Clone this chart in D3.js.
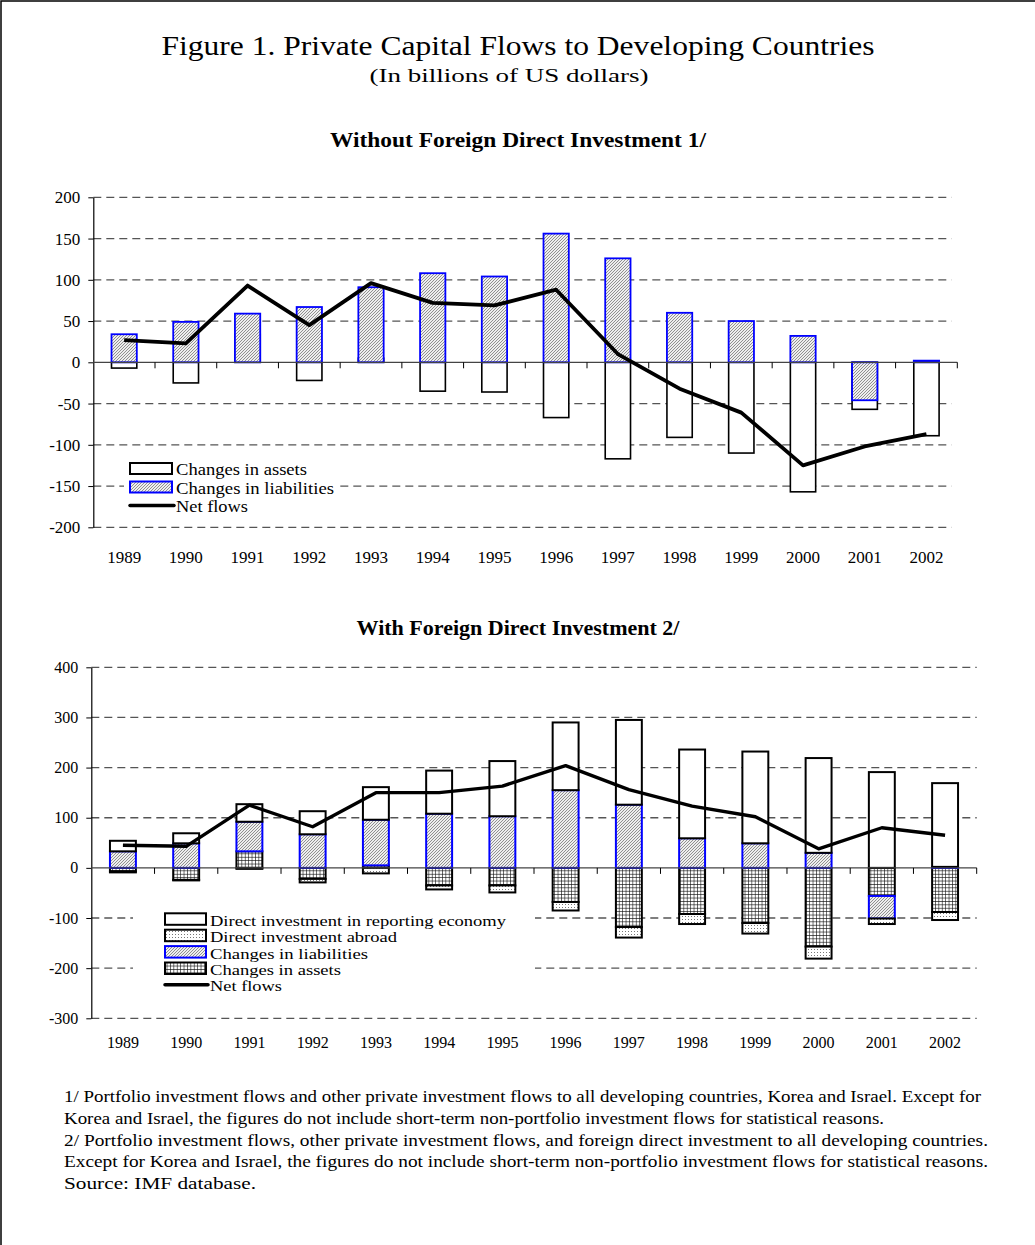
<!DOCTYPE html>
<html>
<head>
<meta charset="utf-8">
<script src="https://cdn.jsdelivr.net/npm/d3@7"></script>
<style>
    body { margin: 0; background: #fff; }
    svg text { font-family: "Liberation Serif", "Times New Roman", Times, serif; fill: #000; }
</style>
</head>
<body>
<div class="chart"></div>
<script>

// categories
var years = ["1989", "1990", "1991", "1992", "1993", "1994", "1995",
             "1996", "1997", "1998", "1999", "2000", "2001", "2002"];

// top panel: without FDI
var topLiabilities = [34, 49, 59, 67, 91, 108, 104, 156, 126, 60, 50, 32, -46, 2];
var topAssets      = [-7, -25, 34, -22, 5, -35, -36, -67, -117, -91, -110, -157, -57, -89];
var topNet         = [27, 23, 93, 45, 96, 72, 69, 88, 10, -32, -61, -125, -102, -87];
var topTicks       = [-200, -150, -100, -50, 0, 50, 100, 150, 200];

// bottom panel: with FDI
var fdiReporting   = [21, 20, 35, 46, 65, 86, 110, 135, 169, 177, 183, 189, 191, 167];
var fdiAbroad      = [-2, -1, -2, -7, -11, -8, -14, -17, -21, -20, -21, -24, -11, -16];
var botLiabilities = [33, 49, 59, 67, 91, 108, 103, 155, 126, 59, 49, 30, -45, 2];
var botAssets      = [-7, -24, 33, -22, 5, -35, -35, -68, -118, -92, -110, -157, -56, -88];
var botNet         = [45, 43, 125, 82, 150, 150, 163, 204, 156, 123, 102, 38, 80, 65];
var botTicks       = [-300, -200, -100, 0, 100, 200, 300, 400];

var footnotes = [
    "1/ Portfolio investment flows and other private investment flows to all developing countries, Korea and Israel. Except for",
    "Korea and Israel, the figures do not include short-term non-portfolio investment flows for statistical reasons.",
    "2/ Portfolio investment flows, other private investment flows, and foreign direct investment to all developing countries.",
    "Except for Korea and Israel, the figures do not include short-term non-portfolio investment flows for statistical reasons.",
    "Source: IMF database."
];
var footnoteWidths = [917, 820, 924, 924, 192];


var svg = d3.select(".chart").append("svg")
    .attr("width", 1035)
    .attr("height", 1245);

// page frame (top and left edges)
svg.append("path")
    .attr("d", "M1,1245V1H1035")
    .attr("fill", "none")
    .attr("stroke", "#000")
    .attr("stroke-width", 1.5);

// fill patterns
var defs = svg.append("defs");

var hatch = defs.append("pattern").attr("id", "hatch")
    .attr("width", 3).attr("height", 3).attr("patternUnits", "userSpaceOnUse");
hatch.append("rect").attr("width", 3).attr("height", 3).attr("fill", "#eee");
hatch.append("path").attr("d", "M-1,1L1,-1M0,3L3,0M2,4L4,2")
    .attr("stroke", "#777").attr("stroke-width", 0.8);

var grid = defs.append("pattern").attr("id", "grid")
    .attr("width", 3.4).attr("height", 3.4).attr("patternUnits", "userSpaceOnUse");
grid.append("rect").attr("width", 3.4).attr("height", 3.4).attr("fill", "#fff");
grid.append("path").attr("d", "M0,0H3.4M0,0V3.4")
    .attr("stroke", "#111").attr("stroke-width", 1.2);

var dots = defs.append("pattern").attr("id", "dots")
    .attr("width", 3).attr("height", 3).attr("patternUnits", "userSpaceOnUse");
dots.append("rect").attr("width", 3).attr("height", 3).attr("fill", "#fff");
dots.append("rect").attr("x", 1).attr("y", 1).attr("width", 1).attr("height", 1).attr("fill", "#777");


// titles
svg.append("text")
    .attr("x", 518).attr("y", 55)
    .attr("text-anchor", "middle")
    .attr("font-size", 28)
    .attr("textLength", 713).attr("lengthAdjust", "spacingAndGlyphs")
    .text("Figure 1. Private Capital Flows to Developing Countries");

svg.append("text")
    .attr("x", 509).attr("y", 82)
    .attr("text-anchor", "middle")
    .attr("font-size", 19.5)
    .attr("textLength", 279).attr("lengthAdjust", "spacingAndGlyphs")
    .text("(In billions of US dollars)");

svg.append("text")
    .attr("x", 518).attr("y", 147)
    .attr("text-anchor", "middle")
    .attr("font-size", 20).attr("font-weight", "bold")
    .attr("textLength", 376).attr("lengthAdjust", "spacingAndGlyphs")
    .text("Without Foreign Direct Investment 1/");

svg.append("text")
    .attr("x", 518).attr("y", 635)
    .attr("text-anchor", "middle")
    .attr("font-size", 20).attr("font-weight", "bold")
    .attr("textLength", 323).attr("lengthAdjust", "spacingAndGlyphs")
    .text("With Foreign Direct Investment 2/");


/*
 * Shared axis frame for one panel
 */
function drawFrame(p) {
    var g = svg.append("g");

    // dashed gridlines
    g.selectAll(".grid")
        .data(p.ticks.filter(function(t) { return t !== 0; }))
        .enter().append("line")
        .attr("x1", p.x.range()[0])
        .attr("x2", p.gridEnd)
        .attr("y1", function(d) { return p.y(d); })
        .attr("y2", function(d) { return p.y(d); })
        .attr("stroke", "#555")
        .attr("stroke-width", 1.3)
        .attr("stroke-dasharray", "8,5");

    // y axis (plain hyphen for negatives, as in the original)
    var yAxis = d3.axisLeft(p.y)
        .tickValues(p.ticks)
        .tickFormat(function(d) { return String(d); })
        .tickSize(5)
        .tickSizeOuter(0)
        .tickPadding(8);

    var yg = g.append("g")
        .attr("transform", "translate(" + p.x.range()[0] + ",0)")
        .call(yAxis);
    yg.select(".domain").attr("stroke", "#000").attr("stroke-width", 1.2);
    yg.selectAll(".tick line").attr("stroke", "#000");
    yg.selectAll(".tick text")
        .attr("font-size", p.fontSize)
        .attr("fill", "#000");

    // category labels
    g.selectAll(".cat")
        .data(years)
        .enter().append("text")
        .attr("x", function(d) { return p.x(d) + p.x.bandwidth() / 2; })
        .attr("y", p.labelY)
        .attr("text-anchor", "middle")
        .attr("font-size", p.fontSize)
        .text(function(d) { return d; });

    return g;
}

function drawZeroAxis(p) {
    var gap = (p.x.step() - p.x.bandwidth()) / 2;
    var g = svg.append("g");
    g.append("line")
        .attr("x1", p.x.range()[0]).attr("x2", p.x.range()[1])
        .attr("y1", p.y(0)).attr("y2", p.y(0))
        .attr("stroke", "#444").attr("stroke-width", 1.2);
    g.selectAll(".xtick")
        .data(years.slice(1).concat(["end"]))
        .enter().append("line")
        .attr("x1", function(d) { return d === "end" ? p.x.range()[1] : p.x(d) - gap; })
        .attr("x2", function(d) { return d === "end" ? p.x.range()[1] : p.x(d) - gap; })
        .attr("y1", p.y(0))
        .attr("y2", p.y(0) + 6)
        .attr("stroke", "#000").attr("stroke-width", 1);
}

function drawNet(p, values, width) {
    var line = d3.line()
        .x(function(d, i) { return p.x(years[i]) + p.x.bandwidth() / 2; })
        .y(function(d) { return p.y(d); });
    svg.append("path")
        .datum(values)
        .attr("d", line)
        .attr("fill", "none")
        .attr("stroke", "#000")
        .attr("stroke-width", width)
        .attr("stroke-linejoin", "round");
}

function drawLegend(items, box, sw) {
    var g = svg.append("g");
    g.append("rect")
        .attr("x", box[0]).attr("y", box[1])
        .attr("width", box[2]).attr("height", box[3])
        .attr("fill", "#fff");
    items.forEach(function(it, i) {
        var yy = sw.y0 + i * sw.step;
        if (it.type === "line") {
            g.append("line")
                .attr("x1", sw.x).attr("x2", sw.x + sw.w + 2)
                .attr("y1", yy + sw.h / 2).attr("y2", yy + sw.h / 2)
                .attr("stroke", "#000").attr("stroke-width", 3.5)
                .attr("stroke-linecap", "round");
        } else {
            g.append("rect")
                .attr("x", sw.x).attr("y", yy)
                .attr("width", sw.w).attr("height", sw.h)
                .attr("fill", it.fill)
                .attr("stroke", it.stroke)
                .attr("stroke-width", 2);
        }
        g.append("text")
            .attr("x", sw.x + sw.w + 4)
            .attr("y", yy + sw.h + 1)
            .attr("font-size", sw.font)
            .attr("textLength", it.len).attr("lengthAdjust", "spacingAndGlyphs")
            .text(it.label);
    });
}


/*
 * Top panel: overlapping columns
 */
var topPanel = {
    x: d3.scaleBand().domain(years).range([93.3, 957.3]).paddingInner(0.59).paddingOuter(0.295),
    y: d3.scaleLinear().domain([-200, 200]).range([527.3, 197.3]),
    ticks: topTicks,
    gridEnd: 951.5,
    fontSize: 17,
    labelY: 563
};

drawFrame(topPanel);

drawLegend([
    { label: "Changes in assets", fill: "#fff", stroke: "#000", len: 131 },
    { label: "Changes in liabilities", fill: "url(#hatch)", stroke: "#0000ff", len: 158 },
    { label: "Net flows", type: "line", len: 72 }
], [124, 458, 214, 58], { x: 130, y0: 463, step: 18.5, w: 42, h: 11, font: 17 });

var topRows = years.map(function(d, i) {
    return { year: d, assets: topAssets[i], liab: topLiabilities[i] };
});

svg.append("g").selectAll("rect")
    .data(topRows)
    .enter().append("rect")
    .attr("x", function(d) { return topPanel.x(d.year); })
    .attr("width", topPanel.x.bandwidth())
    .attr("y", function(d) { return topPanel.y(Math.max(0, d.assets)); })
    .attr("height", function(d) { return Math.abs(topPanel.y(d.assets) - topPanel.y(0)); })
    .attr("fill", "#fff")
    .attr("stroke", "#000")
    .attr("stroke-width", 1.6);

svg.append("g").selectAll("rect")
    .data(topRows)
    .enter().append("rect")
    .attr("x", function(d) { return topPanel.x(d.year); })
    .attr("width", topPanel.x.bandwidth())
    .attr("y", function(d) { return topPanel.y(Math.max(0, d.liab)); })
    .attr("height", function(d) { return Math.abs(topPanel.y(d.liab) - topPanel.y(0)); })
    .attr("fill", "url(#hatch)")
    .attr("stroke", "#0000ff")
    .attr("stroke-width", 1.8);

drawZeroAxis(topPanel);
drawNet(topPanel, topNet, 3.8);


/*
 * Bottom panel: stacked columns
 */
var botPanel = {
    x: d3.scaleBand().domain(years).range([91.3, 976.7]).paddingInner(0.59).paddingOuter(0.295),
    y: d3.scaleLinear().domain([-300, 400]).range([1018.3, 667.3]),
    ticks: botTicks,
    gridEnd: 976.7,
    fontSize: 16,
    labelY: 1048
};

drawFrame(botPanel);

drawLegend([
    { label: "Direct investment in reporting economy", fill: "#fff", stroke: "#000", len: 296 },
    { label: "Direct investment abroad", fill: "url(#dots)", stroke: "#000", len: 187 },
    { label: "Changes in liabilities", fill: "url(#hatch)", stroke: "#0000ff", len: 158 },
    { label: "Changes in assets", fill: "url(#grid)", stroke: "#000", len: 131 },
    { label: "Net flows", type: "line", len: 72 }
], [133, 905, 402, 92], { x: 165, y0: 913.3, step: 16.4, w: 41, h: 11.5, font: 15.5 });

var botRows = years.map(function(d, i) {
    return { year: d, assets: botAssets[i], liab: botLiabilities[i],
             abroad: fdiAbroad[i], reporting: fdiReporting[i] };
});

var botKeys = ["assets", "liab", "abroad", "reporting"];
var botStyle = {
    assets:    { fill: "url(#grid)",  stroke: "#000" },
    liab:      { fill: "url(#hatch)", stroke: "#0000ff" },
    abroad:    { fill: "url(#dots)",  stroke: "#000" },
    reporting: { fill: "#fff",        stroke: "#000" }
};

var layers = d3.stack()
    .keys(botKeys)
    .offset(d3.stackOffsetDiverging)(botRows);

svg.selectAll(".layer")
    .data(layers)
    .enter().append("g")
    .attr("class", "layer")
    .attr("fill", function(d) { return botStyle[d.key].fill; })
    .attr("stroke", function(d) { return botStyle[d.key].stroke; })
    .attr("stroke-width", 2)
    .selectAll("rect")
    .data(function(d) { return d.filter(function(s) { return s[1] !== s[0]; }); })
    .enter().append("rect")
    .attr("x", function(d) { return botPanel.x(d.data.year); })
    .attr("width", botPanel.x.bandwidth())
    .attr("y", function(d) { return botPanel.y(d[1]); })
    .attr("height", function(d) { return botPanel.y(d[0]) - botPanel.y(d[1]); });

drawZeroAxis(botPanel);
drawNet(botPanel, botNet, 3.4);


// footnotes
svg.append("g").selectAll("text")
    .data(footnotes)
    .enter().append("text")
    .attr("x", 64)
    .attr("y", function(d, i) { return 1102 + i * 21.8; })
    .attr("font-size", 17)
    .attr("textLength", function(d, i) { return footnoteWidths[i]; })
    .attr("lengthAdjust", "spacingAndGlyphs")
    .text(function(d) { return d; });

</script>
</body>
</html>
